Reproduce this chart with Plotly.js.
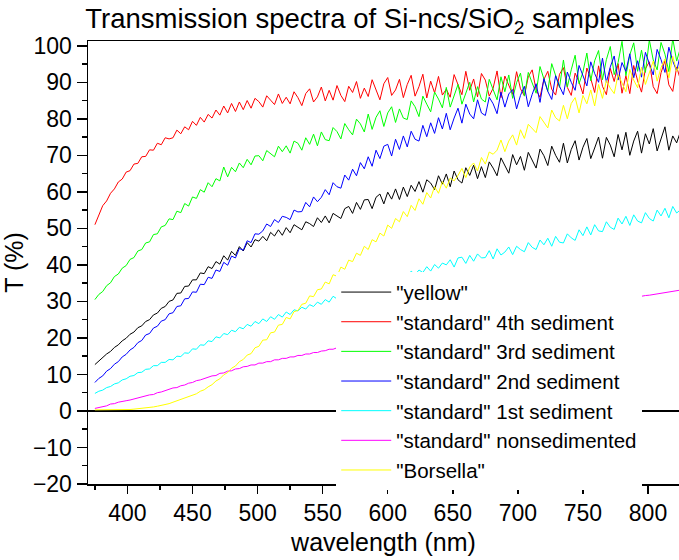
<!DOCTYPE html>
<html>
<head>
<meta charset="utf-8">
<script src="https://cdn.plot.ly/plotly-3.0.1.min.js"></script>
<style>
html,body{margin:0;padding:0;overflow:hidden;background:#fff}
</style>
</head>
<body>
<div id="chart" style="width:679px;height:560px"></div>
<script>
// wavelength grid: 375 nm to 825 nm, 3 nm step
const startNm = 375, stepNm = 3, nPoints = 151;
const wavelength = [];
for (let i = 0; i < nPoints; i++) wavelength.push(startNm + stepNm * i);

const seriesNames = ['"yellow"', '"standard" 4th sediment', '"standard" 3rd sediment', '"standard" 2nd sediment', '"standard" 1st sediment', '"standard" nonsedimented', '"Borsella"'];

const yellowSample = [
12.7,13.7,14.5,15.6,16.3,17.4,18.1,19.2,19.9,21.0,
21.6,22.8,23.3,24.5,25.0,26.3,26.8,28.1,28.6,30.0,
30.4,32.2,32.3,34.1,34.2,35.9,35.9,37.8,37.6,39.5,
39.0,40.9,40.2,42.5,41.3,43.7,42.6,45.0,43.8,46.1,
44.9,46.9,46.5,47.8,46.6,48.9,47.9,49.6,48.1,50.2,
48.8,51.0,50.3,49.6,51.8,51.3,50.5,52.9,51.6,53.4,
51.5,54.1,53.4,52.7,55.4,56.0,54.1,57.1,55.2,57.8,
57.9,55.4,58.5,59.4,56.7,59.9,58.0,60.8,57.9,61.3,
58.7,61.8,60.1,62.8,59.9,63.3,62.4,60.6,64.4,62.1,
64.9,61.4,65.7,63.3,62.4,66.6,64.5,67.3,63.6,66.9,
63.9,68.2,66.5,64.4,69.3,67.0,65.1,70.2,67.4,69.7,
65.9,70.8,68.6,66.5,71.7,69.9,67.2,72.5,70.0,68.1,
73.3,67.9,71.6,74.0,68.7,72.2,74.6,69.1,72.0,75.0,
69.2,74.9,72.8,69.6,75.7,71.5,76.3,70.0,73.9,76.6,
70.6,75.9,73.1,77.3,71.2,74.6,77.8,71.4,75.3,73.4,
76.6];

const std4th = [
51.0,53.6,56.2,57.5,59.6,60.8,62.7,63.5,65.4,65.8,
67.6,67.8,69.6,69.7,71.5,71.4,73.3,72.9,74.8,74.5,
74.8,76.9,75.9,77.8,77.0,79.3,78.2,80.4,79.1,81.2,
80.2,82.4,81.0,83.5,81.6,84.2,82.0,84.6,82.5,85.0,
82.9,85.6,84.7,83.2,86.3,85.1,83.9,86.8,84.2,85.9,
84.1,87.4,85.8,83.6,86.9,88.2,84.6,86.0,88.7,84.9,
87.8,85.1,89.1,86.4,84.7,88.9,87.2,90.2,85.6,88.4,
86.1,90.7,88.0,85.2,89.6,91.3,86.4,87.9,90.8,85.8,
89.4,91.9,86.2,88.8,92.2,85.7,90.3,87.1,91.6,86.5,
88.1,85.9,92.1,89.6,86.6,93.0,87.8,90.9,86.0,92.4,
90.6,86.2,88.4,93.1,85.8,91.7,89.0,86.7,92.9,88.2,
86.3,91.5,93.4,87.9,85.9,90.8,93.0,88.1,86.5,92.2,
94.0,88.6,86.4,92.5,90.1,86.8,93.9,91.0,87.2,94.5,
88.9,86.6,93.8,90.2,95.1,87.0,91.8,86.9,94.6,90.4,
87.3,93.7,95.6,88.8,86.9,92.6,95.9,89.3,87.5,94.2,
90.6];

const std3rd = [
30.5,31.9,32.7,34.3,35.1,36.8,37.5,39.1,39.8,41.5,
42.0,43.8,44.2,46.0,46.3,48.3,48.5,50.4,50.8,52.6,
52.4,54.7,54.3,56.8,56.1,58.6,58.2,60.6,59.9,62.5,
61.4,63.6,63.0,66.8,64.1,66.7,65.5,67.9,66.6,68.9,
67.4,69.8,69.9,68.5,71.3,70.4,69.6,72.5,71.0,72.6,
70.6,73.9,73.3,71.4,74.8,73.0,75.8,72.6,76.4,74.3,
74.0,77.6,76.5,74.5,78.7,77.0,75.6,79.9,78.6,76.4,
81.3,77.1,80.4,82.2,77.9,81.6,83.3,79.0,82.7,80.2,
79.8,84.9,83.3,80.6,86.2,84.0,81.9,87.3,85.4,83.0,
88.6,83.2,86.5,89.4,84.0,87.1,90.0,84.6,88.8,85.4,
84.6,90.8,88.1,85.2,91.5,87.4,92.0,85.6,89.9,92.5,
86.2,92.7,89.8,87.0,94.3,90.6,87.5,95.1,92.0,88.6,
96.1,88.7,93.4,97.4,89.6,92.8,98.0,90.4,95.9,98.7,
90.7,96.2,99.8,92.1,95.4,101.2,91.8,97.5,100.8,93.0,
98.8,92.7,101.6,96.1,93.4,100.9,97.7,92.9,102.0,95.8,
99.5];

const std2nd = [
7.8,8.9,9.6,10.9,11.6,12.8,13.5,14.8,15.5,16.7,
17.4,18.7,19.3,20.8,21.2,22.7,23.2,24.6,25.0,26.6,
26.9,28.6,28.8,30.7,30.8,32.6,32.5,34.7,34.6,36.6,
36.3,38.6,38.2,40.7,39.9,42.4,41.9,44.5,44.0,46.6,
46.1,48.5,48.4,49.3,51.2,50.5,52.4,51.6,53.3,53.0,
52.4,55.0,54.5,54.6,57.1,55.9,58.6,57.3,58.5,60.6,
59.2,62.5,61.4,61.0,64.6,63.2,66.2,64.4,68.0,66.3,
69.6,67.0,71.4,69.1,72.5,73.0,69.8,74.4,71.6,75.3,
72.3,76.6,74.4,73.9,78.2,75.1,78.9,76.0,80.3,77.2,
81.5,77.0,80.2,82.9,78.8,84.0,81.3,80.0,85.2,81.6,
80.9,85.9,84.1,81.4,87.3,83.2,86.8,88.0,82.7,86.4,
88.9,83.3,86.7,89.6,84.5,91.0,87.5,85.3,91.8,88.9,
86.6,92.8,90.0,87.8,94.6,91.6,89.0,95.6,92.4,90.0,
96.6,90.0,94.2,97.2,90.6,95.4,93.0,97.8,91.2,95.9,
91.4,98.2,94.9,92.0,99.0,96.2,92.7,99.6,95.8,93.1,
97.8];

const std1st = [
4.8,5.4,5.7,6.4,6.7,7.4,7.7,8.5,8.8,9.5,
9.7,10.5,10.6,11.4,11.5,12.4,12.4,13.3,13.3,14.1,
14.0,15.0,14.9,15.9,15.8,17.0,16.9,18.1,18.0,19.2,
19.0,20.3,20.0,21.2,20.9,22.1,21.7,22.9,22.5,23.7,
23.2,24.5,23.9,25.2,24.5,25.8,25.1,26.4,25.7,27.1,
26.4,27.7,27.4,28.4,27.9,29.1,28.6,29.8,29.2,30.5,
29.8,31.4,30.7,32.2,31.3,32.8,32.1,33.4,32.7,34.0,
33.1,34.8,33.9,35.6,34.6,36.3,35.5,36.9,36.0,37.5,
36.4,38.3,37.3,38.6,37.9,39.5,38.3,40.1,39.1,40.5,
40.0,41.4,39.4,41.9,42.1,40.4,42.6,41.0,43.0,41.9,
42.0,43.9,41.6,44.4,42.7,43.5,44.9,42.8,45.1,44.2,
43.6,46.1,44.8,44.2,46.8,45.5,47.3,45.1,47.8,46.2,
46.0,48.5,47.4,46.7,49.6,48.0,50.4,48.2,51.0,49.3,
49.1,51.8,50.3,49.7,52.8,51.2,53.3,50.8,53.7,52.0,
51.5,54.3,52.7,52.0,55.0,53.4,55.5,52.9,56.0,54.2,
55.1];

const stdNonsed = [
0.7,0.9,1.3,1.4,1.9,2.0,2.4,2.5,2.8,3.0,
3.3,3.4,3.8,4.0,4.4,4.5,5.0,5.2,5.6,5.8,
6.3,6.4,6.9,7.1,7.6,7.8,8.3,8.5,8.9,9.1,
9.6,9.7,10.3,10.4,10.9,11.0,11.5,11.6,12.1,12.2,
12.6,12.6,13.1,13.1,13.5,13.5,14.0,14.0,14.4,14.4,
14.8,14.8,15.2,15.2,15.6,15.6,16.0,16.0,16.4,16.5,
16.9,16.9,17.3,17.3,17.7,17.7,18.1,18.1,18.5,18.6,
18.9,19.1,19.3,19.4,19.6,19.8,20.0,20.1,20.3,20.5,
20.7,20.9,21.0,21.2,21.4,21.6,21.8,21.9,22.1,22.3,
22.5,22.6,22.8,23.0,23.2,23.4,23.5,23.7,23.9,24.1,
24.3,24.4,24.6,24.8,25.0,25.1,25.3,25.5,25.7,25.9,
26.0,26.2,26.4,26.6,26.7,26.9,27.1,27.3,27.5,27.6,
27.8,28.0,28.2,28.4,28.5,28.7,28.9,29.1,29.2,29.4,
29.6,29.8,30.0,30.1,30.3,30.5,30.7,30.8,31.0,31.2,
31.4,31.6,31.7,31.9,32.1,32.3,32.4,32.6,32.8,33.0,
33.1];

const borsella = [
0.3,0.3,0.2,0.2,0.2,0.2,0.3,0.3,0.3,0.4,
0.5,0.6,0.7,0.8,0.9,1.1,1.3,1.5,1.7,2.0,
2.4,2.8,3.0,3.6,3.9,4.4,4.7,5.4,5.8,6.6,
7.2,8.2,8.8,9.9,10.5,11.7,12.3,13.5,14.1,15.3,
15.7,17.3,17.7,19.4,19.5,21.4,21.6,23.5,23.7,25.6,
25.2,27.2,27.5,29.2,29.5,31.5,31.3,33.2,33.4,35.3,
34.8,37.3,36.9,39.4,38.8,41.3,40.9,43.2,42.6,45.1,
44.2,46.9,46.3,48.7,47.9,50.9,50.0,52.7,51.8,54.6,
53.2,56.3,54.9,58.1,56.6,59.8,58.3,61.4,59.6,62.8,
61.0,63.8,63.0,64.5,66.4,63.9,66.8,67.9,65.7,69.4,
67.6,70.9,70.3,71.4,74.2,71.0,73.9,75.6,72.8,77.0,
74.6,78.5,77.4,76.2,80.6,79.1,77.5,82.4,80.3,79.4,
83.7,80.0,84.2,85.8,81.6,86.4,84.1,87.9,83.5,89.4,
85.6,90.5,88.4,86.9,92.1,89.8,87.4,93.5,90.6,88.5,
94.1,89.4,92.5,95.8,90.3,94.0,96.4,91.2,97.1,93.0,
95.0];

const seriesValues = [yellowSample, std4th, std3rd, std2nd, std1st, stdNonsed, borsella];
const seriesColors = ['#000000', '#ff0000', '#00ff00', '#0000ff', '#00ffff', '#ff00ff', '#ffff00'];

const traces = seriesValues.map((vals, k) => ({
  type: 'scatter', mode: 'lines',
  x: wavelength, y: vals, name: seriesNames[k],
  line: {color: seriesColors[k], width: 1}
}));

const FONT = '"Liberation Sans", Arial, Helvetica, sans-serif';

const layout = {
  width: 679, height: 560,
  margin: {l: 88, r: 0, t: 41, b: 76, pad: 0},
  paper_bgcolor: '#ffffff', plot_bgcolor: '#ffffff',
  font: {family: FONT, color: '#000000', size: 23},
  title: {text: 'Transmission spectra of Si-ncs/SiO<sub>2</sub> samples',
          font: {family: FONT, size: 27.5, color: '#000'},
          x: 0.53, xref: 'container', xanchor: 'center',
          y: 0.967, yref: 'container', yanchor: 'middle'},
  showlegend: true,
  legend: {x: 0.42, xanchor: 'left', y: 0.478, yanchor: 'top',
           bgcolor: '#ffffff', borderwidth: 0,
           font: {family: FONT, size: 20.5, color: '#000'},
           itemwidth: 50, tracegroupgap: 0},
  xaxis: {
    range: [369.7, 823.8], tickmode: 'linear', tick0: 400, dtick: 50,
    ticks: 'outside', ticklen: 8, tickwidth: 1.5, tickcolor: '#000',
    minor: {dtick: 25, tick0: 375, ticks: 'outside', ticklen: 4, tickwidth: 1.5, tickcolor: '#000', showgrid: false},
    showline: true, linecolor: '#000', linewidth: 1.5, mirror: true,
    showgrid: false, zeroline: false,
    tickfont: {family: FONT, size: 23, color: '#000'},
    title: {text: 'wavelength (nm)', font: {family: FONT, size: 25, color: '#000'}, standoff: 8}
  },
  yaxis: {
    range: [-20, 101.3], tickmode: 'linear', tick0: 0, dtick: 10,
    ticks: 'outside', ticklen: 10, tickwidth: 1.5, tickcolor: '#000',
    minor: {dtick: 5, tick0: 0, ticks: 'outside', ticklen: 5, tickwidth: 1.5, tickcolor: '#000', showgrid: false},
    showline: true, linecolor: '#000', linewidth: 1.5, mirror: false,
    showgrid: false, zeroline: true, zerolinecolor: '#000', zerolinewidth: 1.5,
    automargin: true,
    tickfont: {family: FONT, size: 23, color: '#000'},
    title: {text: 'T (%)', font: {family: FONT, size: 25, color: '#000'}, standoff: 2}
  }
};

Plotly.newPlot('chart', traces, layout, {displayModeBar: false, staticPlot: true});
</script>
</body>
</html>
